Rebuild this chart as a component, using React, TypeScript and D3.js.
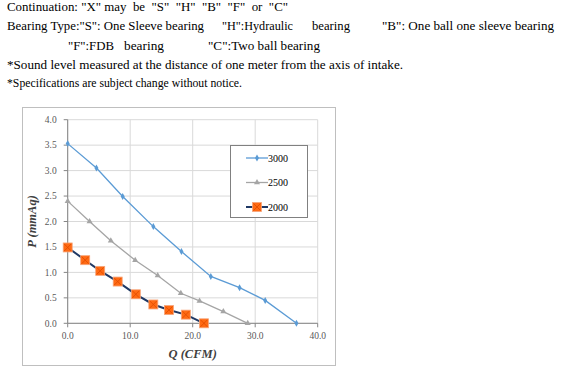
import React from "react";
import * as d3 from "d3";

const q3000 = [0, 4.6, 8.8, 13.7, 18.2, 22.9, 27.5, 31.6, 36.6];
const p3000 = [3.53, 3.05, 2.49, 1.9, 1.41, 0.92, 0.7, 0.45, 0];
const q2500 = [0, 3.5, 6.9, 10.8, 14.4, 18.1, 21.1, 24.9, 28.8];
const p2500 = [2.4, 2.0, 1.62, 1.24, 0.94, 0.59, 0.44, 0.23, 0];
const q2000 = [0, 2.8, 5.2, 8.0, 10.9, 13.7, 16.2, 18.9, 21.8];
const p2000 = [1.49, 1.24, 1.03, 0.82, 0.57, 0.37, 0.26, 0.17, 0];
const xTicks = [0, 10, 20, 30, 40];
const yTicks = [0, 0.5, 1, 1.5, 2, 2.5, 3, 3.5, 4];
const seriesNames = ["3000", "2500", "2000"];

const W = 568, H = 383;
const x = d3.scaleLinear().domain([0, 40]).range([67.7, 317.7]);
const y = d3.scaleLinear().domain([0, 4]).range([323.3, 119.7]);

const zip = (a: number[], b: number[]) => a.map((v, i) => [v, b[i]] as [number, number]);
const line = d3.line<[number, number]>().x(d => x(d[0])).y(d => y(d[1]));

const serif = "Liberation Serif";

function Marker({ kind, cx, cy }: { kind: string; cx: number; cy: number }) {
  if (kind === "3000") {
    const s = d3.symbol().type(d3.symbolDiamond).size(14)();
    return <path d={s || ""} transform={`translate(${cx},${cy})`} fill="#5b9bd5" />;
  }
  if (kind === "2500") {
    const s = d3.symbol().type(d3.symbolTriangle).size(16)();
    return <path d={s || ""} transform={`translate(${cx},${cy})`} fill="#a5a5a5" />;
  }
  return (
    <g transform={`translate(${cx},${cy})`}>
      <rect x={-4.5} y={-4.5} width={9} height={9} fill="#ff6a13" stroke="#f7a57a" strokeWidth={0.8} />
      <path d="M-3.5,-3.5L3.5,3.5M3.5,-3.5L-3.5,3.5" stroke="#e04a00" strokeWidth={0.8} />
    </g>
  );
}

const T = ({ x0, y0, w, children }: { x0: number; y0: number; w?: number; children: string }) => (
  <text x={x0} y={y0} textLength={w} lengthAdjust="spacingAndGlyphs" style={{ whiteSpace: "pre" }}>{children}</text>
);

export default function App() {
  const series = [
    { name: seriesNames[0], pts: zip(q3000, p3000), color: "#5b9bd5", w: 1.3 },
    { name: seriesNames[1], pts: zip(q2500, p2500), color: "#a5a5a5", w: 1.3 },
    { name: seriesNames[2], pts: zip(q2000, p2000), color: "#1f3864", w: 2 },
  ];
  return (
    <svg width={W} height={H} style={{ position: "absolute", left: 0, top: 0, background: "#fff" }}>
      <g fontFamily={serif} fontSize={13.2} fill="#000">
        <T x0={7} y0={11} w={281}>{'Continuation: "X" may  be  "S"  "H"  "B"  "F"  or  "C"'}</T>
        <T x0={7} y0={30} w={197}>{'Bearing Type:"S": One Sleeve bearing'}</T>
        <T x0={222} y0={30} w={71}>{'"H":Hydraulic'}</T>
        <T x0={312} y0={30} w={38}>{'bearing'}</T>
        <T x0={382} y0={30} w={172}>{'"B": One ball one sleeve bearing'}</T>
        <T x0={68} y0={50} w={46}>{'"F":FDB'}</T>
        <T x0={124} y0={50} w={40}>{'bearing'}</T>
        <T x0={208} y0={50} w={112}>{'"C":Two ball bearing'}</T>
        <T x0={7} y0={69} w={396}>{'*Sound level measured at the distance of one meter from the axis of intake.'}</T>
        <T x0={7} y0={87} w={235}>{'*Specifications are subject change without notice.'}</T>
      </g>
      <rect x={22.5} y={107.5} width={313} height={258} fill="#fff" stroke="#bfbfbf" />
      {yTicks.map(t => (
        <line key={"gy" + t} x1={x(0)} x2={x(40)} y1={y(t)} y2={y(t)} stroke="#d9d9d9" />
      ))}
      {xTicks.map(t => (
        <line key={"gx" + t} x1={x(t)} x2={x(t)} y1={y(0)} y2={y(4)} stroke="#d9d9d9" />
      ))}
      <line x1={x(0)} x2={x(0)} y1={y(0)} y2={y(4)} stroke="#868686" />
      <line x1={x(0)} x2={x(40)} y1={y(0)} y2={y(0)} stroke="#868686" />
      {yTicks.map(t => (
        <g key={"ty" + t}>
          <line x1={x(0) - 4} x2={x(0)} y1={y(t)} y2={y(t)} stroke="#868686" />
          <text x={x(0) - 11} y={y(t) + 3.2} textAnchor="end" fontFamily={serif} fontSize={9.5} fill="#595959">{d3.format(".1f")(t)}</text>
        </g>
      ))}
      {xTicks.map(t => (
        <g key={"tx" + t}>
          <line x1={x(t)} x2={x(t)} y1={y(0)} y2={y(0) + 4} stroke="#868686" />
          <text x={x(t)} y={y(0) + 15.5} textAnchor="middle" fontFamily={serif} fontSize={9.5} fill="#595959">{d3.format(".1f")(t)}</text>
        </g>
      ))}
      <text x={x(20)} y={357.5} textAnchor="middle" fontFamily={serif} fontSize={12.5} fontWeight="bold" fontStyle="italic" fill="#404040">Q (CFM)</text>
      <text transform={`translate(36,${y(2)}) rotate(-90)`} textAnchor="middle" fontFamily={serif} fontSize={12.5} fontWeight="bold" fontStyle="italic" fill="#404040">P (mmAq)</text>
      {series.map(s => (
        <g key={s.name}>
          <path d={line(s.pts) || ""} fill="none" stroke={s.color} strokeWidth={s.w} />
          {s.pts.map((p, i) => <Marker key={i} kind={s.name} cx={x(p[0])} cy={y(p[1])} />)}
        </g>
      ))}
      <rect x={230.5} y={145.5} width={77} height={72} fill="#fff" stroke="#808080" />
      {series.map((s, i) => {
        const ly = 158 + i * 24.5;
        return (
          <g key={"lg" + s.name}>
            <line x1={246} x2={268} y1={ly} y2={ly} stroke={s.color} strokeWidth={s.w} />
            <Marker kind={s.name} cx={257} cy={ly} />
            <text x={268} y={ly + 3.5} fontFamily={serif} fontSize={10} fill="#000">{s.name}</text>
          </g>
        );
      })}
    </svg>
  );
}
